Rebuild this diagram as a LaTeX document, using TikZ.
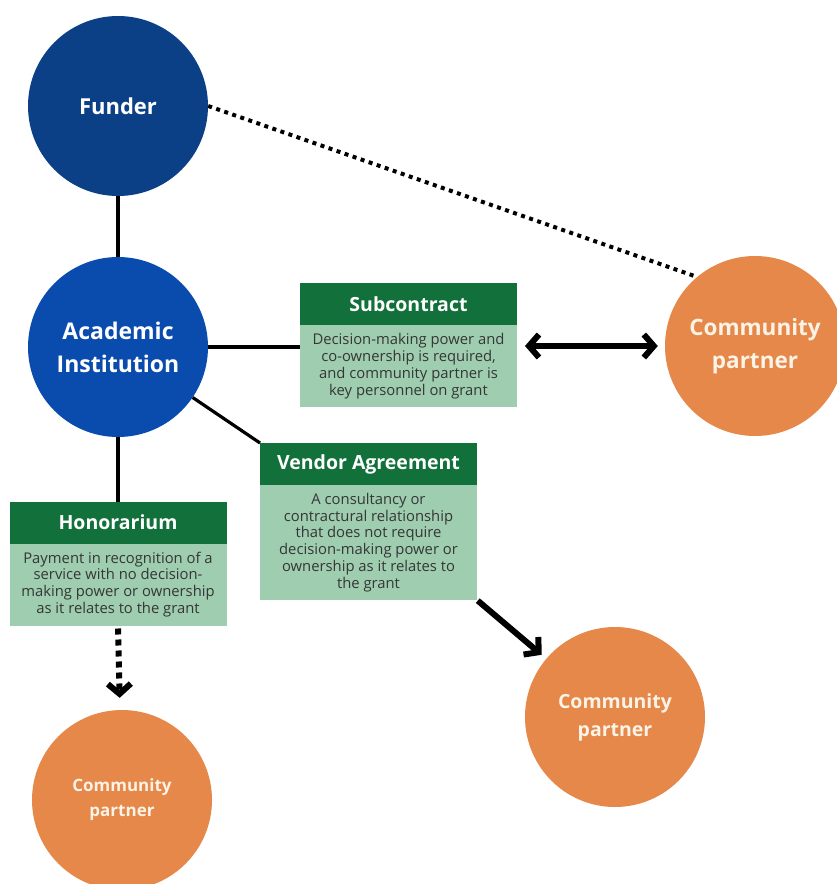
\documentclass[tikz,border=0pt]{standalone}
\usepackage{fontspec}
\setmainfont{Open Sans}
\usetikzlibrary{arrows.meta,positioning}

\definecolor{funderblue}{HTML}{0B3F86}
\definecolor{acadblue}{HTML}{0A4BAE}
\definecolor{partnerorange}{HTML}{E5884A}
\definecolor{partnertext}{HTML}{FBF3E6}
\definecolor{headgreen}{HTML}{12703A}
\definecolor{bodygreen}{HTML}{9ECDAF}
\definecolor{bodytext}{HTML}{363636}

\begin{document}
\begin{tikzpicture}[x=1pt,y=1pt,node distance=0pt]
  \tikzstyle{party}=[circle,minimum size=180pt,inner sep=0pt,align=center,text=white]
  \tikzstyle{partner}=[party,fill=partnerorange,text=partnertext]
  \tikzstyle{head}=[fill=headgreen,text=white,minimum width=217pt,minimum height=42pt,
    inner sep=0pt,outer sep=0pt,font=\bfseries\fontsize{19.5}{22}\selectfont]
  \tikzstyle{info}=[fill=bodygreen,text=bodytext,minimum width=217pt,inner sep=0pt,
    outer sep=0pt,align=center,font=\fontsize{14.8}{16.8}\selectfont]
  \tikzstyle{link}=[line width=4pt]
  \tikzstyle{bigarrow}=[line width=6pt,>={Straight Barb[length=10pt,width=23pt]}]

  \useasboundingbox (0,0) rectangle (837,-884);

  \node[party,fill=funderblue,font=\bfseries\fontsize{22}{26}\selectfont] (funder) at (118,-106) {Funder};
  \node[party,fill=acadblue,font=\bfseries\fontsize{23}{33}\selectfont] (acad) at (118,-347) {Academic\\Institution};
  \node[partner,font=\bfseries\fontsize{22.5}{33}\selectfont] (partR) at (755,-346) {Community\\partner};
  \node[partner,font=\bfseries\fontsize{19.5}{28}\selectfont] (partM) at (615,-717) {Community\\partner};
  \node[partner,font=\bfseries\fontsize{17}{25}\selectfont] (partL) at (122,-800) {Community\\partner};

  \node[head] (subhead) at (408.5,-304) {Subcontract};
  \node[info,below=of subhead,minimum height=82pt] (subbody)
    {Decision-making power and\\co-ownership is required,\\and community partner is\\key personnel on grant};

  \node[head] (vendhead) at (368.5,-464) {Vendor Agreement};
  \node[info,below=of vendhead,minimum height=115pt] (vendbody)
    {A consultancy or\\contractural relationship\\that does not require\\decision-making power or\\ownership as it relates to\\the grant};

  \node[head] (honhead) at (118,-522.5) {Honorarium};
  \node[info,below=of honhead,minimum height=82pt] (honbody)
    {Payment in recognition of a\\service with no decision-\\making power or ownership\\as it relates to the grant};

  % plain links
  \draw[link] (funder) -- (acad);
  \draw[link,line width=3.2pt] (acad.east) -- (acad.east -| subbody.west);
  \draw[link,line width=3.2pt] (acad) -- (vendhead.north west);
  \draw[link] (acad) -- (acad |- honhead.north);
  \draw[link,dash pattern=on 4pt off 4.5pt] (funder.east) -- (partR.130);

  % arrows to partners
  \draw[bigarrow,<->,shorten <=8pt,shorten >=7pt] (subbody.east |- partR) -- (partR);
  \draw[bigarrow,->,shorten <=1pt,shorten >=6pt] (vendbody.south east) -- (partM);
  \draw[bigarrow,->,dash pattern=on 6pt off 5pt,shorten <=3pt,shorten >=12pt] (honbody.south) -- (partL);
\end{tikzpicture}
\end{document}
